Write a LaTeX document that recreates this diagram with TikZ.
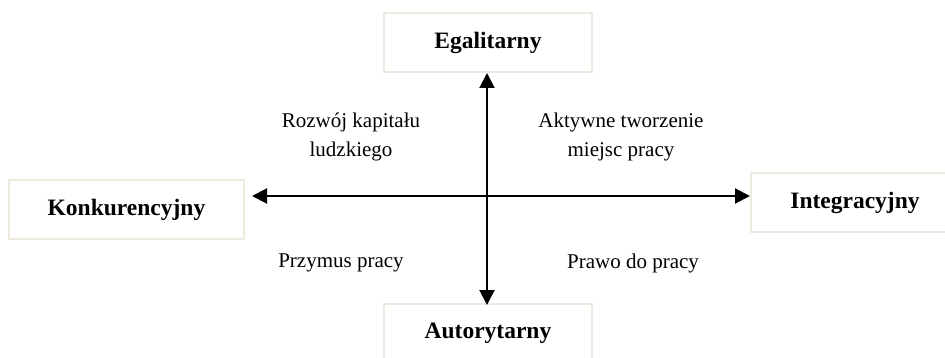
\documentclass[tikz,border=0pt]{standalone}
\usepackage{fontspec}
\setmainfont{Liberation Serif}
\usetikzlibrary{arrows.meta}
\definecolor{boxline}{HTML}{EEEAE0}
\begin{document}
\begin{tikzpicture}[x=1pt,y=-1pt,
  corebox/.style={draw=boxline, line width=2pt, minimum width=208pt, minimum height=59pt, inner sep=0pt,
    font=\fontsize{23.5}{28}\selectfont\bfseries},
  lbl/.style={align=center, font=\fontsize{21}{29}\selectfont, inner sep=0pt},
  biarrow/.style={line width=2pt, {Triangle[length=15pt,width=15pt]}-{Triangle[length=15pt,width=15pt]}}]
\useasboundingbox (0,0) rectangle (945,358);
\begin{scope}
\clip (0,0) rectangle (945,358);
\node[corebox] (egal) at (488,42.5) {Egalitarny};
\node[corebox, minimum width=235pt] (konk) at (126.5,209.5) {Konkurencyjny};
\node[corebox] (integ) at (855,202.5) {Integracyjny};
\node[corebox] (auto) at (488,333.5) {Autorytarny};
\end{scope}
\coordinate (hl) at (252,196);
\coordinate (hr) at (750,196);
\coordinate (vt) at (487,73);
\coordinate (vb) at (487,305);
\draw[biarrow] (hl) -- (hr);
\draw[biarrow] (vt) -- (vb);
\node[lbl] (rk) at (351,137) {Rozwój kapitału\\ludzkiego};
\node[lbl] (at) at (621,137) {Aktywne tworzenie\\miejsc pracy};
\node[lbl] (pp) at (341,263) {Przymus pracy};
\node[lbl] (pd) at (633,263) {Prawo do pracy};
\end{tikzpicture}
\end{document}
